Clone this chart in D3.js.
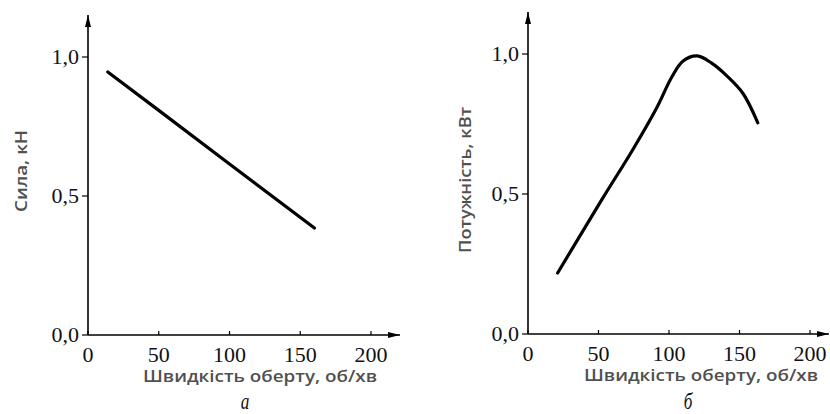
<!DOCTYPE html>
<html><head><meta charset="utf-8">
<script src="https://cdn.jsdelivr.net/npm/d3@7"></script>
<style>body{margin:0;background:#fff}svg{display:block}</style>
</head><body>
<svg id="c" width="830" height="414"></svg>
<script>
// ---- data ----
const xTicks = [0, 50, 100, 150, 200];
const yTicks = [0, 0.5, 1.0];
const yTickLabels = ["0,0", "0,5", "1,0"];
const forceSpeed = [14, 50, 100, 160];
const forceValue = [0.946, 0.808, 0.615, 0.385];
const powerSpeed = [21, 53, 74.5, 91.5, 102, 110, 120, 130, 141, 152.5, 163];
const powerValue = [0.218, 0.485, 0.66, 0.81, 0.918, 0.975, 0.993, 0.968, 0.922, 0.859, 0.754];
const xTitle = "Швидкість оберту, об/хв";
const panels = [
  {yTitle: "Сила, кН", letter: "а", xs: forceSpeed, ys: forceValue,
   x0: 88, x1: 371, y0: 335, y1: 57, xEnd: 400, yEnd: 15, ytx: 27, yty: 171, ytLen: 82,
   xtx: 260, xty: 382, lx: 245, ly: 408.5, curve: d3.curveLinear},
  {yTitle: "Потужність, кВт", letter: "б", xs: powerSpeed, ys: powerValue,
   x0: 528, x1: 810, y0: 334, y1: 54, xEnd: 829, yEnd: 12, ytx: 471, yty: 180, ytLen: 146,
   xtx: 701, xty: 381, lx: 688, ly: 408.5, curve: d3.curveCatmullRom.alpha(0.5)}
];

const svg = d3.select("#c");
const defs = svg.append("defs");
defs.append("marker").attr("id","arr").attr("viewBox","0 0 12 6").attr("refX",12).attr("refY",3)
  .attr("markerWidth",12).attr("markerHeight",6).attr("markerUnits","userSpaceOnUse").attr("orient","auto")
  .append("path").attr("d","M0,0 L12,3 L0,6 Z").attr("fill","#000");

panels.forEach(p => {
  const x = d3.scaleLinear().domain([0, 200]).range([p.x0, p.x1]);
  const y = d3.scaleLinear().domain([0, 1]).range([p.y0, p.y1]);
  const g = svg.append("g");
  g.append("line").attr("x1", x(0)).attr("y1", y(0)).attr("x2", x(0)).attr("y2", p.yEnd)
    .attr("stroke","#000").attr("stroke-width",1.6).attr("marker-end","url(#arr)");
  g.append("line").attr("x1", x(0)).attr("y1", y(0)).attr("x2", p.xEnd).attr("y2", y(0))
    .attr("stroke","#000").attr("stroke-width",1.6).attr("marker-end","url(#arr)");
  xTicks.forEach(t => {
    g.append("line").attr("x1", x(t)).attr("x2", x(t)).attr("y1", y(0)).attr("y2", y(0)-4)
      .attr("stroke","#000").attr("stroke-width",1.2);
    g.append("text").attr("x", x(t)).attr("y", y(0)+27).attr("text-anchor","middle")
      .attr("font-family","Liberation Serif").attr("font-size",22).attr("fill","#111").text(t);
  });
  yTicks.forEach((t, i) => {
    g.append("line").attr("x1", x(0)-6).attr("x2", x(0)).attr("y1", y(t)).attr("y2", y(t))
      .attr("stroke","#000").attr("stroke-width",1.2);
    g.append("text").attr("x", x(0)-9).attr("y", y(t)+7).attr("text-anchor","end")
      .attr("font-family","Liberation Serif").attr("font-size",22).attr("fill","#111").text(yTickLabels[i]);
  });
  const pts = p.xs.map((v, i) => [v, p.ys[i]]);
  g.append("path").datum(pts)
    .attr("d", d3.line().x(d => x(d[0])).y(d => y(d[1])).curve(p.curve))
    .attr("fill","none").attr("stroke","#000").attr("stroke-width",3.2).attr("stroke-linecap","round");
  g.append("text").attr("x", p.xtx).attr("y", p.xty).attr("text-anchor","middle")
    .attr("font-family","Open Sans").attr("font-weight",600).attr("font-size",16)
    .attr("textLength",234).attr("lengthAdjust","spacingAndGlyphs").attr("fill","#505050").text(xTitle);
  g.append("text").attr("transform", `translate(${p.ytx},${p.yty}) rotate(-90)`).attr("text-anchor","middle")
    .attr("font-family","Open Sans").attr("font-weight",600).attr("font-size",16)
    .attr("textLength",p.ytLen).attr("lengthAdjust","spacingAndGlyphs").attr("fill","#505050").text(p.yTitle);
  g.append("text").attr("transform", `translate(${p.lx},${p.ly}) scale(0.75,1)`).attr("text-anchor","middle")
    .attr("font-family","Liberation Serif").attr("font-style","italic").attr("font-size",23).attr("fill","#111").text(p.letter);
});
</script>
</body></html>
